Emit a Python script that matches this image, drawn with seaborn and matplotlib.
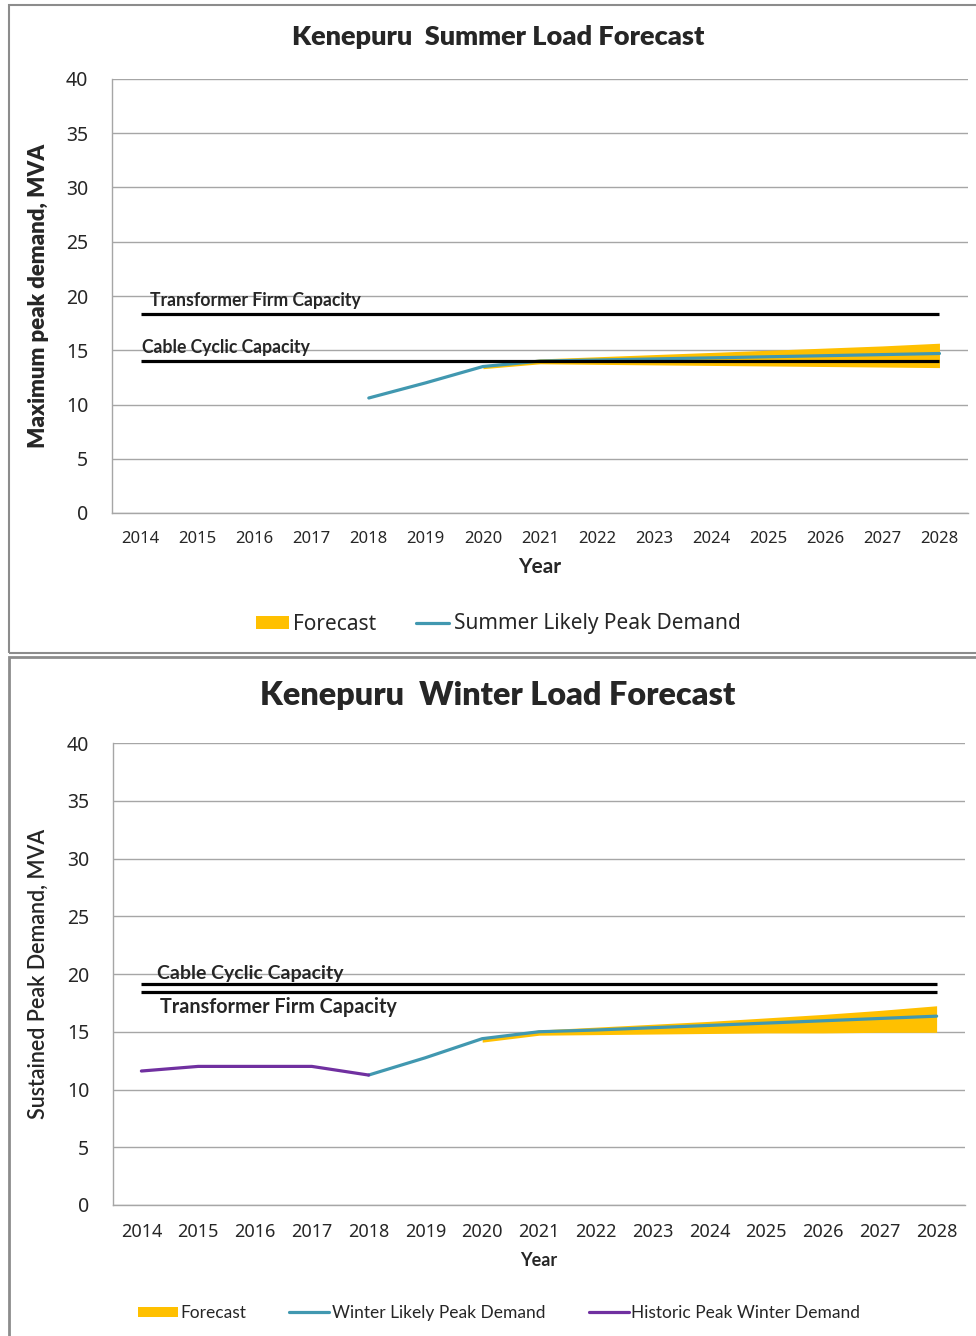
import matplotlib
matplotlib.use("Agg")
import matplotlib.pyplot as plt
from matplotlib.patches import Patch, Rectangle
from matplotlib.lines import Line2D
import pandas as pd
import seaborn as sns

# ---- data -------------------------------------------------------------
years = list(range(2014, 2029))

summer_years = list(range(2018, 2029))
summer_likely = [10.6, 12.0, 13.5, 14.0, 14.1, 14.2, 14.3, 14.4, 14.5, 14.6, 14.7]
summer_fc_years = list(range(2020, 2029))
summer_fc_low = [13.3, 13.75, 13.7, 13.65, 13.6, 13.55, 13.5, 13.45, 13.4]
summer_fc_high = [13.6, 14.2, 14.4, 14.6, 14.8, 15.0, 15.2, 15.4, 15.65]
summer_tx_firm = 18.35
summer_cable = 14.0

winter_hist_years = list(range(2014, 2019))
winter_hist = [11.6, 12.0, 12.0, 12.0, 11.25]
winter_years = list(range(2018, 2029))
winter_likely = [11.25, 12.75, 14.4, 15.0, 15.15, 15.35, 15.55, 15.75, 15.95, 16.15, 16.35]
winter_fc_years = list(range(2020, 2029))
winter_fc_low = [14.1, 14.7, 14.75, 14.8, 14.85, 14.9, 14.9, 14.95, 14.95]
winter_fc_high = [14.5, 15.15, 15.4, 15.65, 15.9, 16.2, 16.5, 16.85, 17.25]
winter_cable = 19.1
winter_tx_firm = 18.45

yticks = [0, 5, 10, 15, 20, 25, 30, 35, 40]

# ---- style ------------------------------------------------------------
sns.set_theme(style="white")
plt.rcParams["font.family"] = ["Lato", "DejaVu Sans"]

W, H = 976, 1336
fig = plt.figure(figsize=(W / 100, H / 100), dpi=100)

ORANGE = "#FFC000"
TEAL = "#4198B0"
PURPLE = "#7030A0"
GRID = "#A6A6A6"
TICKFONT = ["Noto Sans", "DejaVu Sans"]


def px_axes(left, top, right, bottom):
    return fig.add_axes([left / W, 1 - bottom / H, (right - left) / W, (bottom - top) / H])


def style_axes(ax, xtick_size, ytick_size):
    ax.set_xlim(2013.5, 2028.5)
    ax.set_ylim(0, 40)
    ax.set_yticks(yticks)
    ax.set_yticklabels([str(t) for t in yticks], fontsize=ytick_size, family=TICKFONT)
    ax.set_xticks(years)
    ax.set_xticklabels([str(y) for y in years], fontsize=xtick_size, family=TICKFONT)
    ax.set_xticks([y - 0.5 for y in years] + [2028.5], minor=True)
    ax.tick_params(axis="x", which="major", length=0, pad=13)
    ax.tick_params(axis="x", which="minor", length=6, color=GRID, width=1, direction="out")
    ax.tick_params(axis="y", length=6, color=GRID, width=1, direction="out", pad=11)
    ax.yaxis.grid(True, color=GRID, linewidth=1)
    ax.xaxis.grid(False)
    for side in ["top", "right"]:
        ax.spines[side].set_visible(False)
    for side in ["left", "bottom"]:
        ax.spines[side].set_color(GRID)
        ax.spines[side].set_linewidth(1)
    ax.set_axisbelow(True)


# ---- panel frames -----------------------------------------------------
fig.patches.append(Rectangle((9 / W, 1 - 653 / H), 1.0, (653 - 5) / H,
                             transform=fig.transFigure, fill=False,
                             edgecolor="#8C8C8C", linewidth=1.5))
fig.patches.append(Rectangle((9 / W, -0.01), 1.0, (1336 - 657) / H + 0.01,
                             transform=fig.transFigure, fill=False,
                             edgecolor="#8C8C8C", linewidth=2))

# ---- summer chart -----------------------------------------------------
ax1 = px_axes(112, 79, 968, 513)
style_axes(ax1, 12, 14)
ax1.fill_between(summer_fc_years, summer_fc_low, summer_fc_high, color=ORANGE, linewidth=0)
sns.lineplot(data=pd.DataFrame({"Year": summer_years, "MVA": summer_likely}),
             x="Year", y="MVA", ax=ax1, color=TEAL, linewidth=2.3)
ax1.hlines(summer_tx_firm, years[0], years[-1], color="black", linewidth=2.3)
ax1.hlines(summer_cable, years[0], years[-1], color="black", linewidth=2.3)
ax1.text(2014.17, summer_tx_firm + 0.45, "Transformer Firm Capacity", fontsize=12.7,
         fontweight="bold", va="bottom", ha="left")
ax1.text(2014.03, summer_cable + 0.45, "Cable Cyclic Capacity", fontsize=12.7,
         fontweight="bold", va="bottom", ha="left")
ax1.set_xlabel("Year", fontsize=15, fontweight="bold", labelpad=7)
ax1.set_ylabel("Maximum peak demand, MVA", fontsize=16, fontweight="heavy", labelpad=12)
fig.text(498 / W, 1 - 37 / H, "Kenepuru  Summer Load Forecast", fontsize=19.5,
         fontweight="heavy", ha="center", va="center")

h_fc = Patch(facecolor=ORANGE, edgecolor="none", label="Forecast")
h_sl = Line2D([], [], color=TEAL, linewidth=2.3, label="Summer Likely Peak Demand")
fig.legend(handles=[h_fc, h_sl], loc="center", bbox_to_anchor=(498 / W, 1 - 624 / H),
           ncol=2, frameon=False, prop={"family": TICKFONT, "size": 15},
           handlelength=1.6, handletextpad=0.2, columnspacing=1.9, handleheight=0.6)

# ---- winter chart -----------------------------------------------------
ax2 = px_axes(113, 743, 965, 1205)
style_axes(ax2, 13, 14)
ax2.fill_between(winter_fc_years, winter_fc_low, winter_fc_high, color=ORANGE, linewidth=0)
sns.lineplot(data=pd.DataFrame({"Year": winter_years, "MVA": winter_likely}),
             x="Year", y="MVA", ax=ax2, color=TEAL, linewidth=2.3)
sns.lineplot(data=pd.DataFrame({"Year": winter_hist_years, "MVA": winter_hist}),
             x="Year", y="MVA", ax=ax2, color=PURPLE, linewidth=2.3)
ax2.hlines(winter_cable, years[0], years[-1], color="black", linewidth=2.3)
ax2.hlines(winter_tx_firm, years[0], years[-1], color="black", linewidth=2.3)
ax2.text(2014.28, winter_cable + 0.25, "Cable Cyclic Capacity", fontsize=14,
         fontweight="bold", va="bottom", ha="left")
ax2.text(2014.33, winter_tx_firm - 0.45, "Transformer Firm Capacity", fontsize=14.2,
         fontweight="bold", va="top", ha="left")
ax2.set_xlabel("Year", fontsize=13, fontweight="bold", labelpad=8)
ax2.set_ylabel("Sustained Peak Demand, MVA", fontsize=15.5, fontweight="semibold", labelpad=13)
fig.text(498 / W, 1 - 696 / H, "Kenepuru  Winter Load Forecast", fontsize=23.3,
         fontweight="heavy", ha="center", va="center")

h_fc2 = Patch(facecolor=ORANGE, edgecolor="none", label="Forecast")
h_wl = Line2D([], [], color=TEAL, linewidth=2.3, label="Winter Likely Peak Demand")
h_hp = Line2D([], [], color=PURPLE, linewidth=2.3, label="Historic Peak Winter Demand")
fig.legend(handles=[h_fc2, h_wl, h_hp], loc="center", bbox_to_anchor=(499 / W, 1 - 1313 / H),
           ncol=3, frameon=False, prop={"size": 12.5},
           handlelength=2.3, handletextpad=0.15, columnspacing=2.5, handleheight=0.5)

fig.savefig("out.png", dpi=100)
